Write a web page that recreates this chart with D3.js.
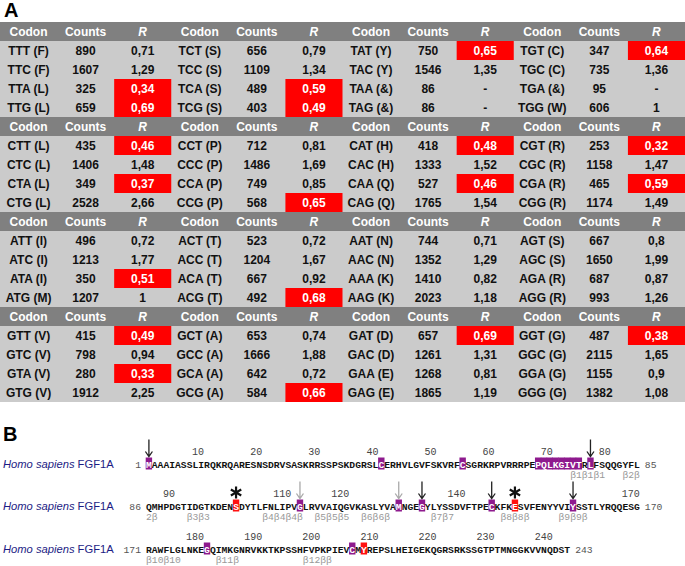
<!DOCTYPE html>
<html><head><meta charset="utf-8">
<script src="https://cdn.jsdelivr.net/npm/d3@7/dist/d3.min.js"></script>
<style>body{margin:0;background:#fff}svg{display:block}</style>
</head><body>
<script>
// ---------- Panel A data ----------
const headers = ["Codon", "Counts", "R"];
const codons = [
 "TTT (F)","TTC (F)","TTA (L)","TTG (L)", "TCT (S)","TCC (S)","TCA (S)","TCG (S)",
 "TAT (Y)","TAC (Y)","TAA (&)","TAG (&)", "TGT (C)","TGC (C)","TGA (&)","TGG (W)",
 "CTT (L)","CTC (L)","CTA (L)","CTG (L)", "CCT (P)","CCC (P)","CCA (P)","CCG (P)",
 "CAT (H)","CAC (H)","CAA (Q)","CAG (Q)", "CGT (R)","CGC (R)","CGA (R)","CGG (R)",
 "ATT (I)","ATC (I)","ATA (I)","ATG (M)", "ACT (T)","ACC (T)","ACA (T)","ACG (T)",
 "AAT (N)","AAC (N)","AAA (K)","AAG (K)", "AGT (S)","AGC (S)","AGA (R)","AGG (R)",
 "GTT (V)","GTC (V)","GTA (V)","GTG (V)", "GCT (A)","GCC (A)","GCA (A)","GCG (A)",
 "GAT (D)","GAC (D)","GAA (E)","GAG (E)", "GGT (G)","GGC (G)","GGA (G)","GGG (G)"
];
const counts = [
 890,1607,325,659, 656,1109,489,403, 750,1546,86,86, 347,735,95,606,
 435,1406,349,2528, 712,1486,749,568, 418,1333,527,1765, 253,1158,465,1174,
 496,1213,350,1207, 523,1204,667,492, 744,1352,1410,2023, 667,1650,687,993,
 415,798,280,1912, 653,1666,642,584, 657,1261,1268,1865, 487,2115,1155,1382
];
const rValues = [
 0.71,1.29,0.34,0.69, 0.79,1.34,0.59,0.49, 0.65,1.35,null,null, 0.64,1.36,null,1,
 0.46,1.48,0.37,2.66, 0.81,1.69,0.85,0.65, 0.48,1.52,0.46,1.54, 0.32,1.47,0.59,1.49,
 0.72,1.77,0.51,1,    0.72,1.67,0.92,0.68, 0.71,1.29,0.82,1.18, 0.8,1.99,0.87,1.26,
 0.49,0.94,0.33,2.25, 0.74,1.88,0.72,0.66, 0.69,1.31,0.81,1.19, 0.38,1.65,0.9,1.08
];
const lowThreshold = 0.7;

// ---------- Panel B data ----------
const speciesName = "Homo sapiens";
const proteinName = "FGF1A";
const seqLines = [
 "MAAAIASSLIRQKRQARESNSDRVSASKRRSSPSKDGRSLCERHVLGVFSKVRFCSGRKRPVRRRPEPQLKGIVTRLFSQQGYFL",
 "QMHPDGTIDGTKDENSDYTLFNLIPVGLRVVAIQGVKASLYVAMNGEGYLYSSDVFTPECKFKESVFENYYVIYSSTLYRQQESG",
 "RAWFLGLNKEGQIMKGNRVKKTKPSSHFVPKPIEVCMYREPSLHEIGEKQGRSRKSSGTPTMNGGKVVNQDST"
];
const lineStarts = [1, 86, 171];
const purpleSites = [1,41,55,68,69,70,71,72,73,74,75,77,112,129,133,145,159,181,206];
const redSites = [101,149,208];
const darkArrows = [1,77,133,145,159];
const lightArrows = [112,129];
const asterisks = [101,149];
const tickNumbers = [10,20,30,40,50,60,70,80, 90,110,120,140,170, 180,190,200,210,220,230,240];
const strandStarts = [74,83, 86,93,106,115,123,135,147,157, 171,183,198];
const strandLabels = ["β1β1β1","β2β", "2β","β3β3","β4β4β4β","β5β5β5","β6β6β","β7β7","β8β8β","β9β9β", "β10β10","β11β","β12ββ"];

// ---------- Drawing ----------
const W = 685, H = 566;
const svg = d3.select("body").append("svg").attr("width", W).attr("height", H)
  .style("font-family", "'Liberation Sans', Arial, sans-serif");

svg.append("text").attr("x", 4).attr("y", 17).text("A")
  .attr("font-size", 20).attr("font-weight", "bold");
svg.append("text").attr("x", 3).attr("y", 441).text("B")
  .attr("font-size", 20).attr("font-weight", "bold");

const xCol = d3.scaleBand().domain(d3.range(12)).range([0, W]);
const yRow = d3.scaleBand().domain(d3.range(20)).range([22, 402]);
const headerFill = "#808080", bodyFill = "#cbcbcb", redFill = "#ff0000";
const fmt = d3.formatLocale({decimal: ",", thousands: ".", grouping: [3], currency: ["", ""]}).format("~g");

const tbl = svg.append("g");
d3.range(4).forEach(b => {
  tbl.append("rect").attr("x", 0).attr("y", yRow(b*5)).attr("width", W)
    .attr("height", yRow.bandwidth()).attr("fill", headerFill);
  tbl.append("rect").attr("x", 0).attr("y", yRow(b*5+1)).attr("width", W)
    .attr("height", yRow.bandwidth()*4).attr("fill", bodyFill);
  d3.range(12).forEach(c => {
    const h = headers[c % 3];
    tbl.append("text").attr("x", xCol(c) + xCol.bandwidth()/2)
      .attr("y", yRow(b*5) + yRow.bandwidth()/2).attr("dy", "0.36em")
      .attr("text-anchor", "middle").attr("font-size", 12).attr("font-weight", "bold")
      .attr("font-style", h === "R" ? "italic" : "normal")
      .attr("fill", "#fff").text(h);
  });
});

const cells = codons.map((cd, i) => {
  const b = Math.floor(i/16), g = Math.floor((i%16)/4), r = i % 4;
  return {cd, n: counts[i], rv: rValues[i], row: b*5 + 1 + r, col: g*3};
});
tbl.selectAll("rect.low").data(cells.filter(d => d.rv !== null && d.rv < lowThreshold))
  .join("rect").attr("class", "low")
  .attr("x", d => xCol(d.col + 2)).attr("y", d => yRow(d.row))
  .attr("width", xCol.bandwidth()).attr("height", yRow.bandwidth()).attr("fill", redFill);

const cellText = (d, k) => k === 0 ? d.cd : k === 1 ? String(d.n) : (d.rv === null ? "-" : fmt(d.rv));
cells.forEach(d => {
  [0,1,2].forEach(k => {
    const low = k === 2 && d.rv !== null && d.rv < lowThreshold;
    tbl.append("text").attr("x", xCol(d.col + k) + xCol.bandwidth()/2)
      .attr("y", yRow(d.row) + yRow.bandwidth()/2).attr("dy", "0.36em")
      .attr("text-anchor", "middle").attr("font-size", 12).attr("font-weight", "bold")
      .attr("fill", low ? "#fff" : "#111").text(cellText(d, k));
  });
});

// ---------- Panel B ----------
const cw = 5.81;
const seqX = d3.scaleLinear().domain([0, 85]).range([146, 146 + 85*cw]);
const seqBase = [467.5, 509.5, 552.5];
const mono = "'Liberation Mono', 'Courier New', monospace";
const pB = svg.append("g");

function locate(pos) {
  let li = 0;
  for (let i = 0; i < lineStarts.length; i++) if (pos >= lineStarts[i]) li = i;
  return {li, col: pos - lineStarts[li]};
}

seqLines.forEach((s, li) => {
  const yb = seqBase[li];
  const lab = pB.append("text").attr("x", 3).attr("y", yb).attr("font-size", 11.2).attr("fill", "#1c1c84");
  lab.append("tspan").attr("font-style", "italic").text(speciesName);
  lab.append("tspan").text(" " + proteinName);
  pB.append("text").attr("x", 141).attr("y", yb).attr("text-anchor", "end")
    .attr("font-family", mono).attr("font-size", 9.7).attr("fill", "#555").text(lineStarts[li]);
  pB.append("text").attr("x", seqX(s.length) + 5).attr("y", yb)
    .attr("font-family", mono).attr("font-size", 9.7).attr("fill", "#555").text(lineStarts[li] + s.length - 1);
});

// highlight boxes
const hl = purpleSites.map(p => ({p, c: "#8e1a8e"})).concat(redSites.map(p => ({p, c: "#ff1010"})));
hl.forEach(h => {
  const {li, col} = locate(h.p);
  pB.append("rect").attr("x", seqX(col) - 0.3).attr("y", seqBase[li] - 10)
    .attr("width", cw + 0.6).attr("height", 12).attr("fill", h.c);
});
const hlSet = new Set(hl.map(h => h.p));

seqLines.forEach((s, li) => {
  s.split("").forEach((ch, col) => {
    const pos = lineStarts[li] + col;
    pB.append("text").attr("x", seqX(col) + cw/2).attr("y", seqBase[li])
      .attr("text-anchor", "middle").attr("font-family", mono).attr("font-size", 9.7)
      .attr("font-weight", "bold").attr("fill", hlSet.has(pos) ? "#fff" : "#111").text(ch);
  });
});

// tick numbers (right-aligned to residue)
tickNumbers.forEach(t => {
  const {li, col} = locate(t);
  pB.append("text").attr("x", seqX(col + 1)).attr("y", seqBase[li] - 13)
    .attr("text-anchor", "end").attr("font-family", mono).attr("font-size", 10)
    .attr("fill", "#444").text(t);
});

// strand labels
strandStarts.forEach((p, i) => {
  const {li, col} = locate(p);
  pB.append("text").attr("x", seqX(col)).attr("y", seqBase[li] + 10)
    .attr("font-family", mono).attr("font-size", 9.7).attr("fill", "#999").text(strandLabels[i]);
});

// arrows
function arrow(p, color) {
  const {li, col} = locate(p);
  const cx = seqX(col) + cw/2, yb = seqBase[li];
  const y0 = yb - 28, y1 = yb - 11;
  pB.append("path").attr("d", `M${cx},${y0}V${y1}M${cx-3.5},${y1-5}L${cx},${y1}L${cx+3.5},${y1-5}`)
    .attr("stroke", color).attr("stroke-width", 1.3).attr("fill", "none");
}
darkArrows.forEach(p => arrow(p, "#222"));
lightArrows.forEach(p => arrow(p, "#aaa"));

// asterisks
asterisks.forEach(p => {
  const {li, col} = locate(p);
  const cx = seqX(col) + cw/2, cy = seqBase[li] - 17, r = 6;
  const d = [90, 30, 150].map(a => {
    const rad = a * Math.PI / 180, dx = r*Math.cos(rad), dy = r*Math.sin(rad);
    return `M${cx-dx},${cy-dy}L${cx+dx},${cy+dy}`;
  }).join("");
  pB.append("path").attr("d", d).attr("stroke", "#111").attr("stroke-width", 2.2);
});
</script>
</body></html>
